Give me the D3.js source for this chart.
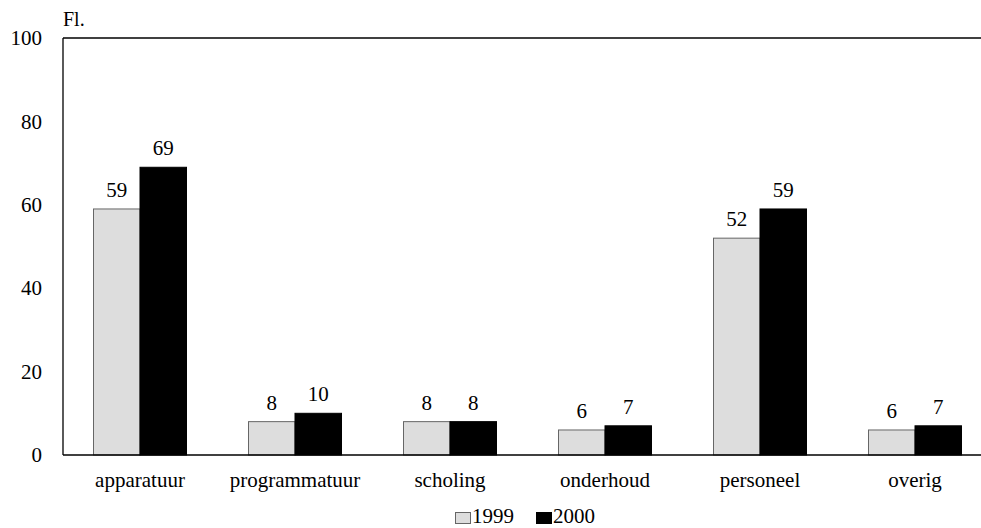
<!DOCTYPE html>
<html>
<head>
<meta charset="utf-8">
<script src="https://cdn.jsdelivr.net/npm/d3@7"></script>
<style>
  body { margin: 0; background: #fff; }
  svg { display: block; }
</style>
</head>
<body>
<svg id="chart" width="981" height="528"></svg>
<script>
const categories = ["apparatuur", "programmatuur", "scholing", "onderhoud", "personeel", "overig"];
const seriesNames = ["1999", "2000"];
const values1999 = [59, 8, 8, 6, 52, 6];
const values2000 = [69, 10, 8, 7, 59, 7];
const yTicks = [0, 20, 40, 60, 80, 100];
const colors = ["#dddddd", "#000000"];
const FONT = "'Liberation Serif', 'Times New Roman', serif";

const svg = d3.select("#chart");
const plotLeft = 63, plotRight = 981, plotTop = 38, plotBottom = 455;

// category bands run slightly past the right frame edge
const x = d3.scaleBand().domain(categories).range([62.5, 992.5]);
const groupWidth = 93;
const xs = d3.scaleBand().domain(seriesNames).range([0, groupWidth]);
const y = d3.scaleLinear().domain([0, 100]).range([plotBottom, plotTop]);

const data = categories.map((c, i) => ({ cat: c, vals: [values1999[i], values2000[i]] }));

// frame: left axis and top line
svg.append("line").attr("x1", plotLeft).attr("x2", plotLeft).attr("y1", plotTop).attr("y2", plotBottom)
  .attr("stroke", "#000").attr("stroke-width", 1.3);
svg.append("line").attr("x1", plotLeft).attr("x2", plotRight).attr("y1", plotTop).attr("y2", plotTop)
  .attr("stroke", "#000").attr("stroke-width", 1.3);

// y tick labels
const yAxis = d3.axisLeft(y).tickValues(yTicks).tickSize(0).tickPadding(21);
const ya = svg.append("g").attr("transform", `translate(${plotLeft},0)`).call(yAxis);
ya.select(".domain").remove();
ya.selectAll("text").style("font-family", FONT).style("font-size", "21px").attr("fill", "#000");

svg.append("text").attr("x", plotLeft).attr("y", 26)
  .style("font-family", FONT).style("font-size", "20px").text("Fl.");

// bars
const groups = svg.selectAll("g.cat").data(data).join("g")
  .attr("class", "cat")
  .attr("transform", d => `translate(${x(d.cat) + x.bandwidth() / 2 - groupWidth / 2},0)`);

groups.selectAll("rect").data(d => d.vals.map((v, k) => ({ v, k }))).join("rect")
  .attr("x", d => xs(seriesNames[d.k]))
  .attr("width", xs.bandwidth())
  .attr("y", d => y(d.v))
  .attr("height", d => y(0) - y(d.v))
  .attr("fill", d => colors[d.k])
  .attr("stroke", d => d.k === 0 ? "#666" : "#000")
  .attr("stroke-width", 1);

groups.selectAll("text.val").data(d => d.vals.map((v, k) => ({ v, k }))).join("text")
  .attr("class", "val")
  .attr("x", d => xs(seriesNames[d.k]) + xs.bandwidth() / 2)
  .attr("y", d => y(d.v) - 12)
  .attr("text-anchor", "middle")
  .style("font-family", FONT).style("font-size", "21px")
  .text(d => d.v);

// baseline
svg.append("line").attr("x1", plotLeft).attr("x2", plotRight).attr("y1", plotBottom).attr("y2", plotBottom)
  .attr("stroke", "#000").attr("stroke-width", 1.3);

// category labels
const xAxis = d3.axisBottom(x).tickSize(0).tickPadding(17);
const xa = svg.append("g").attr("transform", `translate(0,${plotBottom})`).call(xAxis);
xa.select(".domain").remove();
xa.selectAll("text").style("font-family", FONT).style("font-size", "21px").attr("fill", "#000");

// legend
const legend = svg.append("g").attr("transform", "translate(455,523)");
const legendX = [0, 81];
seriesNames.forEach((s, i) => {
  const g = legend.append("g").attr("transform", `translate(${legendX[i]},0)`);
  g.append("rect").attr("x", 0.5).attr("y", -10.5).attr("width", 15).attr("height", 11)
    .attr("fill", colors[i]).attr("stroke", i === 0 ? "#666" : "#000");
  g.append("text").attr("x", 17).attr("y", 0)
    .style("font-family", FONT).style("font-size", "21px").text(s);
});
</script>
</body>
</html>
